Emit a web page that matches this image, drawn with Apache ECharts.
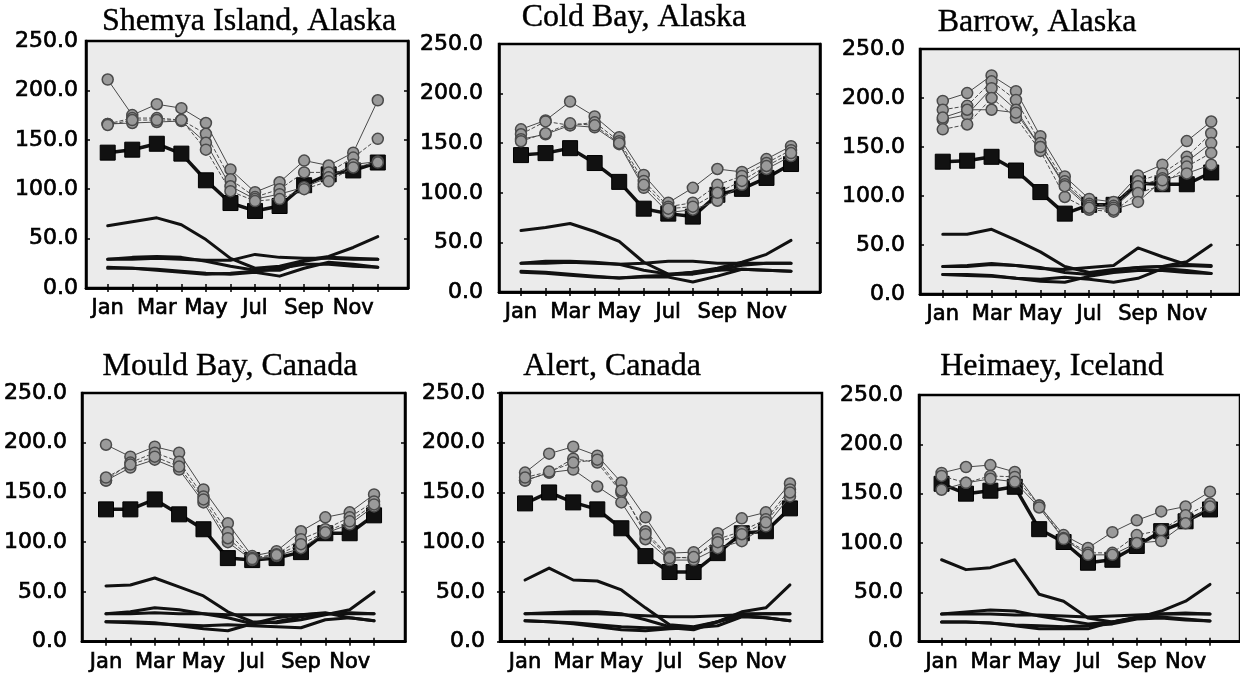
<!DOCTYPE html>
<html>
<head>
<meta charset="utf-8">
<title>Monthly values at six Arctic stations</title>
<script src="https://cdn.jsdelivr.net/npm/echarts@6/dist/echarts.min.js"></script>
<style>
  html, body { margin: 0; padding: 0; background: #ffffff; }
  #chart { width: 1240px; height: 673px; }
</style>
</head>
<body>
<div id="chart"></div>
<script>
// Month names (x positions are month numbers 1..12)
const MONTHS = ['Jan', 'Feb', 'Mar', 'Apr', 'May', 'Jun', 'Jul', 'Aug', 'Sep', 'Oct', 'Nov', 'Dec'];
const MONTH_LABELS_SHOWN = [1, 3, 5, 7, 9, 11];

const STATIONS = ['Shemya Island, Alaska', 'Cold Bay, Alaska', 'Barrow, Alaska',
                  'Mould Bay, Canada', 'Alert, Canada', 'Heimaey, Iceland'];

// ---- Shemya Island ----
const shemyaSquares = [137, 140, 146, 136, 109, 86, 78, 83, 104, 115, 119, 127];
const shemyaCircles = [
  [211, 175, 186, 182, 167, 120, 97, 107, 129, 124, 137, 190],
  [166, 172, 172, 170, 156, 110, 92, 100, 117, 117, 132, 151],
  [166, 167, 168, 169, 147, 103, 90, 95, 102, 112, 125, 128],
  [165, 170, 170, 170, 140, 98, 88, 90, 100, 108, 122, 127]
];
const shemyaLines = [
  [63, 67, 71, 64, 49, 30, 20, 22, 28, 32, 41, 52],
  [29, 29, 30, 29, 28, 28, 34, 31, 30, 30, 29, 29],
  [29, 31, 32, 31, 27, 22, 18, 18, 27, 31, 30, 29],
  [20, 20, 19, 17, 15, 14, 16, 12, 20, 26, 24, 21],
  [21, 20, 18, 16, 14, 15, 17, 20, 24, 24, 22, 21]
];

// ---- Cold Bay ----
const coldBaySquares = [138, 140, 145, 130, 111, 84, 79, 76, 98, 104, 115, 129];
const coldBayCircles = [
  [164, 173, 192, 177, 156, 118, 90, 105, 124, 121, 134, 147],
  [159, 172, 168, 171, 152, 112, 86, 90, 108, 117, 130, 143],
  [154, 159, 168, 166, 149, 105, 80, 83, 92, 108, 124, 137],
  [152, 160, 170, 168, 150, 108, 84, 86, 100, 112, 127, 140]
];
const coldBayLines = [
  [62, 65, 69, 61, 51, 30, 18, 20, 24, 30, 38, 52],
  [29, 29, 30, 29, 28, 29, 31, 31, 29, 29, 29, 29],
  [29, 31, 31, 30, 28, 22, 18, 18, 22, 27, 29, 29],
  [21, 20, 18, 16, 14, 15, 15, 10, 16, 23, 22, 21],
  [20, 19, 17, 15, 14, 16, 17, 20, 22, 23, 22, 21]
];

// ---- Barrow ----
const barrowSquares = [135, 136, 140, 126, 104, 82, 91, 91, 113, 112, 112, 124];
const barrowCircles = [
  [197, 205, 223, 207, 161, 120, 97, 94, 121, 132, 156, 176],
  [188, 192, 217, 198, 154, 115, 92, 90, 115, 123, 140, 164],
  [178, 183, 210, 188, 150, 112, 90, 88, 110, 118, 135, 154],
  [168, 173, 200, 180, 146, 99, 86, 84, 103, 111, 130, 144],
  [180, 188, 188, 185, 150, 110, 88, 86, 94, 116, 123, 132]
];
const barrowLines = [
  [61, 61, 66, 55, 43, 28, 22, 25, 27, 28, 33, 50],
  [28, 28, 30, 29, 26, 25, 27, 29, 47, 38, 30, 29],
  [28, 29, 31, 29, 27, 22, 20, 24, 27, 28, 29, 28],
  [20, 20, 19, 16, 13, 12, 18, 22, 24, 24, 22, 21],
  [20, 19, 18, 16, 15, 17, 15, 12, 16, 26, 24, 21]
];

// ---- Mould Bay ----
const mouldBaySquares = [133, 133, 143, 128, 113, 84, 82, 84, 90, 109, 109, 127];
const mouldBayCircles = [
  [198, 186, 196, 190, 153, 119, 86, 91, 111, 125, 130, 148],
  [162, 180, 190, 181, 146, 110, 84, 88, 103, 113, 125, 141],
  [162, 175, 183, 173, 140, 100, 82, 86, 94, 109, 118, 136],
  [165, 178, 186, 176, 143, 104, 83, 87, 98, 110, 121, 138]
];
const mouldBayLines = [
  [56, 57, 64, 55, 46, 30, 20, 19, 22, 27, 32, 50],
  [28, 28, 29, 28, 28, 27, 27, 27, 27, 28, 28, 28],
  [28, 30, 34, 32, 28, 24, 18, 20, 25, 28, 29, 28],
  [20, 20, 19, 16, 13, 11, 18, 24, 27, 29, 24, 21],
  [20, 19, 18, 17, 16, 17, 16, 15, 14, 22, 24, 21]
];

// ---- Alert ----
const alertSquares = [139, 150, 140, 133, 114, 86, 70, 70, 89, 109, 111, 134];
const alertCircles = [
  [170, 189, 196, 187, 160, 125, 89, 90, 109, 124, 130, 159],
  [162, 170, 184, 180, 150, 111, 85, 84, 103, 111, 123, 153],
  [162, 170, 173, 156, 140, 103, 82, 82, 94, 101, 116, 146],
  [165, 171, 180, 183, 152, 108, 84, 85, 100, 108, 120, 150]
];
const alertLines = [
  [62, 74, 62, 61, 52, 34, 17, 15, 20, 30, 34, 57],
  [28, 28, 28, 28, 27, 26, 25, 25, 26, 27, 28, 28],
  [28, 29, 30, 30, 28, 22, 15, 14, 20, 28, 28, 28],
  [21, 20, 18, 15, 12, 11, 13, 14, 16, 25, 24, 21],
  [21, 20, 19, 17, 15, 14, 14, 12, 20, 26, 24, 21]
];

// ---- Heimaey ----
const heimaeySquares = [160, 150, 153, 157, 114, 101, 80, 83, 97, 112, 122, 134];
const heimaeyCircles = [
  [171, 177, 179, 172, 138, 108, 95, 111, 123, 132, 137, 152],
  [168, 161, 168, 167, 138, 105, 90, 90, 108, 113, 128, 140],
  [154, 161, 165, 162, 136, 104, 88, 88, 100, 102, 120, 137]
];
const heimaeyLines = [
  [83, 73, 75, 83, 48, 41, 24, 20, 24, 31, 41, 58],
  [28, 28, 28, 27, 27, 26, 25, 26, 27, 28, 28, 28],
  [28, 30, 32, 31, 26, 22, 18, 20, 25, 28, 29, 28],
  [20, 20, 19, 16, 13, 13, 13, 20, 24, 25, 23, 21],
  [20, 20, 19, 17, 16, 15, 16, 18, 23, 24, 22, 21]
];

const stationSquares = [shemyaSquares, coldBaySquares, barrowSquares, mouldBaySquares, alertSquares, heimaeySquares];
const stationCircles = [shemyaCircles, coldBayCircles, barrowCircles, mouldBayCircles, alertCircles, heimaeyCircles];
const stationLines = [shemyaLines, coldBayLines, barrowLines, mouldBayLines, alertLines, heimaeyLines];

// Panel layout (pixels) and x extents in month units
const panelBoxes = [
  { left: 86,  top: 41,  width: 322, height: 247, xMin: 0.116, xMax: 13.23, labelGap: 8,  titleX: 249,  titleY: 22 },
  { left: 499, top: 44,  width: 321, height: 248, xMin: 0.104, xMax: 13.18, labelGap: 16, titleX: 634,  titleY: 18 },
  { left: 920, top: 49,  width: 323, height: 245, xMin: 0.067, xMax: 13.18, labelGap: 15, titleX: 1037, titleY: 23 },
  { left: 82,  top: 393, width: 323, height: 249, xMin: 0.015, xMax: 13.27, labelGap: 15, titleX: 230,  titleY: 367 },
  { left: 500, top: 393, width: 322, height: 249, xMin: -0.04, xMax: 13.33, labelGap: 15, titleX: 612,  titleY: 367 },
  { left: 919, top: 395, width: 323, height: 248, xMin: 0.075, xMax: 13.23, labelGap: 16, titleX: 1052, titleY: 367 }
];

const SANS = '"DejaVu Sans", "Liberation Sans", Arial, sans-serif';
const SERIF = '"Liberation Serif", "Times New Roman", serif';

function toPoints(values) {
  return values.map((v, i) => [i + 1, v]);
}

const grids = [], xAxes = [], yAxes = [], series = [], graphics = [];

const labelText = {
  color: '#000', fontFamily: SANS, fontSize: 21,
  textBorderColor: '#000', textBorderWidth: 0.7
};

panelBoxes.forEach((box, p) => {
  grids.push({
    left: box.left, top: box.top, width: box.width, height: box.height,
    show: true, backgroundColor: '#ebebeb', borderColor: '#000', borderWidth: 2.5
  });

  const tickStyle = { show: true, inside: true, length: 4, lineStyle: { color: '#000', width: 1.5 } };
  const monthTicks = MONTHS.map((m, i) => i + 1);

  // bottom month axis
  xAxes.push({
    type: 'value', gridIndex: p, position: 'bottom', min: box.xMin, max: box.xMax,
    axisLine: { show: true, lineStyle: { color: '#000', width: 2.5 } },
    axisTick: Object.assign({ customValues: monthTicks }, tickStyle),
    splitLine: { show: false },
    axisLabel: Object.assign({
      show: true, customValues: MONTH_LABELS_SHOWN, margin: 10,
      formatter: v => MONTHS[Math.round(v) - 1]
    }, labelText)
  });
  // top frame with month ticks
  xAxes.push({
    type: 'value', gridIndex: p, position: 'top', min: box.xMin, max: box.xMax,
    axisLine: { show: true, lineStyle: { color: '#000', width: 2.5 } },
    axisTick: Object.assign({ customValues: monthTicks }, tickStyle),
    splitLine: { show: false }, axisLabel: { show: false }
  });
  // left value axis
  yAxes.push({
    type: 'value', gridIndex: p, position: 'left', min: 0, max: 250, interval: 50,
    axisLine: { show: true, lineStyle: { color: '#000', width: 2.5 } },
    axisTick: tickStyle, splitLine: { show: false },
    axisLabel: Object.assign({
      margin: box.labelGap, formatter: v => v.toFixed(1)
    }, labelText, { fontSize: 22 })
  });
  // right frame
  yAxes.push({
    type: 'value', gridIndex: p, position: 'right', min: 0, max: 250, interval: 50,
    axisLine: { show: true, lineStyle: { color: '#000', width: 2.5 } },
    axisTick: tickStyle, splitLine: { show: false }, axisLabel: { show: false }
  });

  const xi = p * 2, yi = p * 2;

  // solid black curves near the bottom
  stationLines[p].forEach(vals => {
    series.push({
      type: 'line', xAxisIndex: xi, yAxisIndex: yi, data: toPoints(vals),
      showSymbol: false, symbol: 'none', silent: true, z: 2,
      lineStyle: { color: '#111', width: 3, join: 'round', cap: 'round' }
    });
  });

  // black squares
  series.push({
    type: 'line', xAxisIndex: xi, yAxisIndex: yi, data: toPoints(stationSquares[p]),
    symbol: 'rect', symbolSize: 15, silent: true, z: 3,
    itemStyle: { color: '#111', borderColor: '#000', borderWidth: 1 },
    lineStyle: { color: '#111', width: 3.5 }
  });

  // grey circle runs
  stationCircles[p].forEach((vals, k) => {
    series.push({
      type: 'line', xAxisIndex: xi, yAxisIndex: yi, data: toPoints(vals),
      symbol: 'circle', symbolSize: 11, silent: true, z: 4,
      itemStyle: { color: '#9a9a9a', borderColor: '#4a4a4a', borderWidth: 1.5 },
      lineStyle: { color: '#4a4a4a', width: 1, type: k % 2 === 1 ? [4, 2] : 'solid' }
    });
  });

  graphics.push({
    type: 'text', x: box.titleX, y: box.titleY, silent: true,
    style: {
      text: STATIONS[p], fill: '#000', stroke: '#000', lineWidth: 0.4,
      font: '32px ' + SERIF, textAlign: 'center', textVerticalAlign: 'middle'
    }
  });
});

const chart = echarts.init(document.getElementById('chart'), null, { renderer: 'canvas' });
chart.setOption({
  animation: false,
  backgroundColor: '#ffffff',
  grid: grids,
  xAxis: xAxes,
  yAxis: yAxes,
  series: series,
  graphic: graphics
});
</script>
</body>
</html>
